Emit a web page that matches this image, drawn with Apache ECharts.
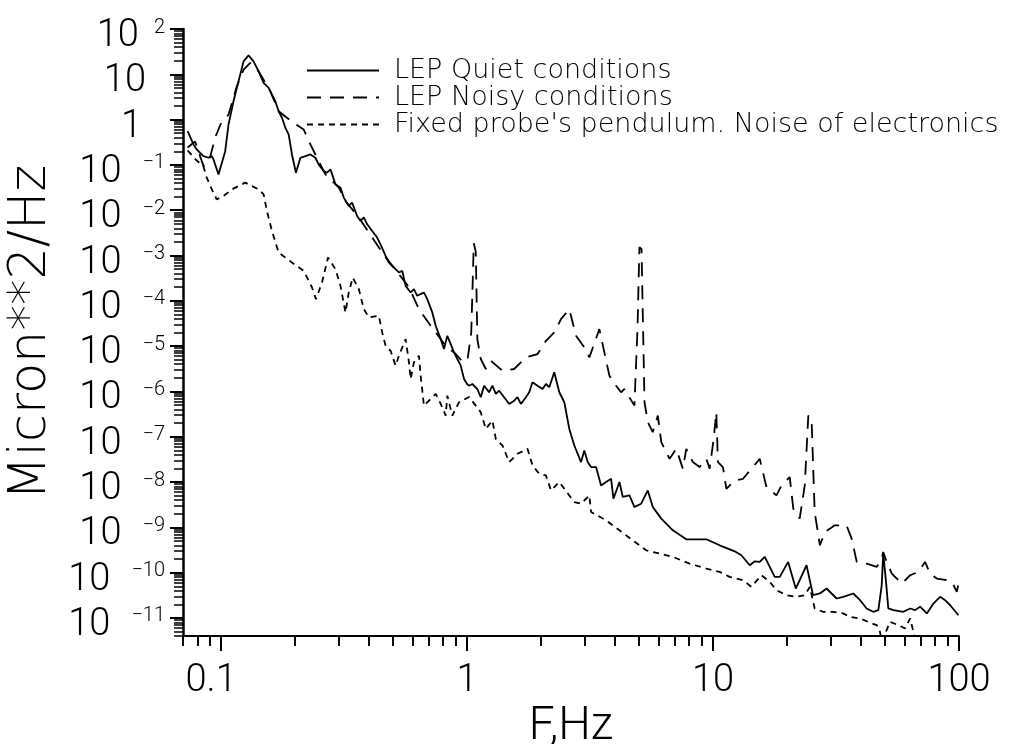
<!DOCTYPE html>
<html><head><meta charset="utf-8">
<script src="https://cdn.jsdelivr.net/npm/echarts@6/dist/echarts.min.js"></script>
<style>html,body{margin:0;padding:0;background:#fff}#c{width:1011px;height:744px}</style>
</head><body><div id="c"></div>
<script>
// ---- data: [frequency Hz, PSD micron^2/Hz] ----
const quiet = [[0.0731,0.555],[0.0772,0.283],[0.0796,0.219],[0.0848,0.156],[0.0889,0.144],[0.0917,0.156],[0.0931,0.132],[0.0976,0.0618],[0.1039,0.201],[0.1072,0.78],[0.1123,2.54],[0.1159,5.01],[0.1234,19.3],[0.1293,26.2],[0.1355,19.3],[0.1421,11.6],[0.1489,6.47],[0.1561,5.01],[0.161,3.57],[0.1661,2.54],[0.1714,1.53],[0.1768,1.1],[0.1825,0.659],[0.1882,0.47],[0.1941,0.17],[0.2015,0.0673],[0.2101,0.144],[0.2202,0.156],[0.2307,0.17],[0.2417,0.144],[0.2493,0.1026],[0.2614,0.073],[0.2696,0.0673],[0.2784,0.0796],[0.2917,0.0372],[0.3057,0.0315],[0.3152,0.019],[0.3304,0.0124],[0.3408,0.0147],[0.3573,0.00745],[0.3688,0.00578],[0.3804,0.00698],[0.3925,0.00489],[0.4113,0.00348],[0.431,0.00249],[0.4449,0.00177],[0.4664,0.00098],[0.481,0.000701],[0.4962,0.00059],[0.5284,0.000423],[0.545,0.000458],[0.5627,0.000214],[0.5896,0.000153],[0.6081,0.000181],[0.6272,0.000129],[0.6475,0.000141],[0.6679,0.000153],[0.6889,0.000109],[0.7221,5.55e-5],[0.7457,2.81e-5],[0.7814,1.43e-5],[0.8059,8.63e-6],[0.8312,1.69e-5],[0.8582,1.11e-5],[0.8852,7.3e-6],[0.913,5.2e-6],[0.9426,3.7e-6],[0.972,1.88e-6],[1.0,1.46e-6],[1.019,1.34e-6],[1.051,1.46e-6],[1.101,1.13e-6],[1.137,7.45e-7],[1.173,1.34e-6],[1.229,9.6e-7],[1.268,1.34e-6],[1.309,8.8e-7],[1.35,1.04e-6],[1.415,7.45e-7],[1.483,5.3e-7],[1.554,6.27e-7],[1.603,7.45e-7],[1.655,5.3e-7],[1.735,7.45e-7],[1.789,9.6e-7],[1.845,1.6e-6],[1.934,1.34e-6],[2.027,1.13e-6],[2.093,1.46e-6],[2.159,1.24e-6],[2.262,2.65e-6],[2.371,9.6e-7],[2.485,5.78e-7],[2.604,1.49e-7],[2.729,6.4e-8],[2.906,2.76e-8],[2.998,4.97e-8],[3.092,2.76e-8],[3.193,2.14e-8],[3.345,2.14e-8],[3.506,8.4e-9],[3.675,1.0e-8],[3.852,1.18e-8],[3.936,4.29e-9],[4.165,1.0e-8],[4.295,4.68e-9],[4.572,5.07e-9],[4.792,2.81e-9],[5.104,3.33e-9],[5.429,6.53e-9],[5.69,2.81e-9],[6.16,1.56e-9],[6.865,8.6e-10],[7.785,5.45e-10],[9.39,5.45e-10],[10.64,4.02e-10],[12.25,2.96e-10],[13.04,2.42e-10],[14.1,1.46e-10],[14.78,1.78e-10],[15.48,1.73e-10],[16.23,2.23e-10],[17.82,8.07e-11],[18.68,8.07e-11],[20.2,1.73e-10],[21.7,4.47e-11],[24.0,1.46e-10],[25.5,3.18e-11],[27.2,3.47e-11],[28.95,4.47e-11],[31.8,2.69e-11],[33.8,2.93e-11],[37.2,3.47e-11],[39.6,2.47e-11],[42.1,1.62e-11],[44.8,1.37e-11],[47.0,1.49e-11],[48.5,5.27e-11],[49.2,2.64e-10],[50.5,6.27e-11],[51.6,1.62e-11],[54.1,1.49e-11],[59.4,1.37e-11],[63.3,1.62e-11],[66.3,1.49e-11],[69.5,1.77e-11],[74.0,1.26e-11],[78.7,2.08e-11],[83.8,2.93e-11],[87.8,2.47e-11],[92.1,1.91e-11],[99.5,1.15e-11]];
const noisy = [[0.0731,0.243],[0.0784,0.33],[0.0848,0.094],[0.0897,0.132],[0.0946,0.404],[0.0994,0.78],[0.1072,1.29],[0.1159,5.44],[0.1234,12.7],[0.1314,17.8],[0.1421,11.6],[0.1585,4.23],[0.1714,1.53],[0.1847,1.11],[0.1972,0.851],[0.2167,0.605],[0.2307,0.283],[0.2417,0.17],[0.2655,0.0618],[0.301,0.0315],[0.3203,0.016],[0.3631,0.00687],[0.4113,0.00249],[0.4664,0.00092],[0.5284,0.000387],[0.5804,0.0002],[0.6374,6.56e-5],[0.7113,2.81e-5],[0.8189,1.02e-5],[0.899,6.7e-6],[0.954,4.7e-6],[1.003,4.76e-6],[1.04,2.0e-5],[1.065,0.00187],[1.085,0.0012],[1.101,1.43e-5],[1.137,5.2e-6],[1.192,3.13e-6],[1.249,4.76e-6],[1.393,2.87e-6],[1.554,3.13e-6],[1.735,5.66e-6],[1.934,6.7e-6],[2.093,1.31e-5],[2.262,2.01e-5],[2.409,3.95e-5],[2.604,6.56e-5],[2.773,1.69e-5],[2.998,9.4e-6],[3.142,5.66e-6],[3.45,2.38e-5],[3.616,7.3e-6],[3.79,2.23e-6],[4.036,1.34e-6],[4.23,9.6e-7],[4.36,1.13e-6],[4.79,4.86e-7],[4.93,2.38e-5],[5.02,0.00152],[5.12,0.00138],[5.265,5.78e-7],[5.43,2.1e-7],[5.69,1.26e-7],[5.965,2.93e-7],[6.16,7.6e-8],[6.66,3.26e-8],[7.09,5.41e-8],[7.54,1.96e-8],[7.785,5.41e-8],[8.28,2.76e-8],[8.82,2.14e-8],[9.39,3.26e-8],[9.685,1.96e-8],[10.06,9.0e-8],[10.31,3.48e-7],[10.47,2.76e-8],[10.97,2.14e-8],[11.33,7.1e-9],[12.25,1.08e-8],[13.24,1.18e-8],[15.48,3.26e-8],[16.49,7.76e-9],[18.11,5.07e-9],[18.98,8.4e-9],[20.5,1.29e-8],[21.2,2.58e-9],[22.5,1.56e-9],[23.6,8.4e-9],[24.4,2.93e-7],[25.15,2.48e-7],[25.9,2.18e-9],[27.2,4.02e-10],[28.5,7.9e-10],[31.3,1.11e-9],[34.9,1.11e-9],[36.6,5.64e-10],[38.4,1.73e-10],[42.1,1.58e-10],[46.3,1.34e-10],[48.5,2.05e-10],[49.2,2.87e-10],[50.8,1.73e-10],[53.3,9.5e-11],[58.5,5.75e-11],[63.3,8.77e-11],[68.4,1.04e-10],[72.8,1.73e-10],[76.3,9.5e-11],[81.3,7.4e-11],[89.3,6.8e-11],[93.5,6.27e-11],[98.0,3.78e-11],[100,6.5e-11]];
const fixedProbe = [[0.0731,0.209],[0.0787,0.132],[0.0848,0.0927],[0.0874,0.0523],[0.0917,0.0288],[0.096,0.0174],[0.1023,0.0206],[0.1106,0.0288],[0.1253,0.0406],[0.1421,0.0288],[0.1489,0.0224],[0.1536,0.0096],[0.161,0.00348],[0.1714,0.00116],[0.1941,0.0007],[0.2167,0.000458],[0.2342,0.000197],[0.2431,0.000109],[0.2572,0.000254],[0.2721,0.000904],[0.2917,0.000499],[0.3057,0.000214],[0.3203,5.55e-5],[0.3304,0.000153],[0.343,0.000327],[0.3631,0.000181],[0.3804,6.56e-5],[0.3988,4.31e-5],[0.4379,4.68e-5],[0.4518,2.01e-5],[0.4664,1.02e-5],[0.4888,7.9e-6],[0.5123,3.7e-6],[0.5284,6.15e-6],[0.5627,1.43e-5],[0.5804,4.4e-6],[0.5896,1.88e-6],[0.6081,4.4e-6],[0.6374,6.15e-6],[0.6475,2.23e-6],[0.6679,4.86e-7],[0.7457,8.8e-7],[0.7814,5.3e-7],[0.8189,2.93e-7],[0.8312,8.07e-7],[0.871,2.93e-7],[0.9277,5.78e-7],[1.019,7.57e-7],[1.137,3.48e-7],[1.192,1.49e-7],[1.268,2.28e-7],[1.309,9.0e-8],[1.393,6.4e-8],[1.483,2.76e-8],[1.603,4.2e-8],[1.761,5.41e-8],[1.845,2.32e-8],[1.965,1.52e-8],[2.093,1.4e-8],[2.193,6.53e-9],[2.371,1.0e-8],[2.604,5.07e-9],[2.729,3.62e-9],[2.906,3.33e-9],[3.142,5.07e-9],[3.193,2.18e-9],[3.675,1.43e-9],[4.165,8.6e-10],[4.716,5.18e-10],[5.35,3.11e-10],[6.06,2.64e-10],[6.865,2.23e-10],[8.03,1.58e-10],[9.39,1.23e-10],[10.64,1.04e-10],[11.68,8.07e-11],[13.24,6.8e-11],[14.32,4.86e-11],[15.74,8.77e-11],[17.0,6.27e-11],[18.11,4.1e-11],[19.9,3.18e-11],[21.85,2.93e-11],[23.6,3.18e-11],[24.75,4.86e-11],[25.9,1.62e-11],[28.0,1.37e-11],[30.8,1.37e-11],[33.8,1.26e-11],[36.0,1.06e-11],[39.6,9.75e-12],[44.2,7.57e-12],[46.3,6.94e-12],[47.7,4.97e-12],[48.6,3.0e-12],[52.4,8.24e-12],[56.7,6.94e-12],[60.4,5.87e-12],[63.3,9.75e-12],[66.3,3.5e-12],[75,3.0e-12],[100,3.0e-12]];
const seriesNames = ['LEP Quiet conditions', 'LEP Noisy conditions', "Fixed probe's pendulum. Noise of electronics"];
const xMajor = [0.1, 1, 10, 100];
const xMinor = [0.07,0.08,0.09,0.2,0.3,0.4,0.5,0.6,0.7,0.8,0.9,2,3,4,5,6,7,8,9,20,30,40,50,60,70,80,90];
const yMajor = [1e2,1e1,1,1e-1,1e-2,1e-3,1e-4,1e-5,1e-6,1e-7,1e-8,1e-9,1e-10,1e-11];
// label values listed so that neighbouring labels are not adjacent at the list ends
const yLabelValues = [1e2,1e-11,1,1e-1,1e-2,1e-3,1e-4,1e-5,1e-6,1e-7,1e-8,1e-9,1e1,1e-10];
const yMinor = [];
for (let k = -12; k < 2; k++) for (let m = 2; m <= 9; m++) { const v = m * Math.pow(10, k); if (v >= 4e-12 && v < 100) yMinor.push(v); }
const xName = 'F,Hz';
const yName = 'Micron**2/Hz';

const FONT = "Roboto, 'Liberation Sans', sans-serif";
const WIDE = "'DejaVu Sans', Roboto, sans-serif";
const chart = echarts.init(document.getElementById('c'), null, {renderer: 'canvas'});
const lineW = 1.8;
const common = {type: 'log', logBase: 10, splitLine: {show: false}, minorTick: {show: false}, minorSplitLine: {show: false}};
chart.setOption({
  animation: false,
  backgroundColor: '#fff',
  grid: {left: 183, right: 52, top: 29, bottom: 108, containLabel: false, outerBoundsMode: 'none'},
  legend: {
    orient: 'vertical', left: 301, top: 52, itemWidth: 72, itemHeight: 14, itemGap: 0,
    selectedMode: false, data: seriesNames,
    itemStyle: {opacity: 0},
    textStyle: {fontFamily: WIDE, fontWeight: 200, fontSize: 27, color: '#000', padding: [0, 0, 0, 10]}
  },
  xAxis: [
    Object.assign({}, common, {
      min: 0.07, max: 100, position: 'bottom',
      name: xName, nameLocation: 'middle', nameGap: 42,
      nameTextStyle: {fontFamily: FONT, fontWeight: 300, fontSize: 46, color: '#000'},
      axisLine: {lineStyle: {color: '#000', width: 2}},
      axisTick: {customValues: xMajor, length: 15, lineStyle: {color: '#000', width: 2}},
      axisLabel: {customValues: xMajor, margin: 26, color: '#000', fontFamily: FONT, fontWeight: 300, fontSize: 38,
        showMinLabel: true, showMaxLabel: true,
        formatter: v => (v < 0.5 ? '{p|' + v + '}' : String(v)),
        rich: {p: {fontFamily: FONT, fontWeight: 300, fontSize: 38, color: '#000', padding: [0, 20, 0, 0]}}}
    }),
    Object.assign({}, common, {
      min: 0.07, max: 100, position: 'bottom',
      axisLine: {show: false}, axisLabel: {show: false},
      axisTick: {customValues: xMinor, length: 10, lineStyle: {color: '#000', width: 2}}
    })
  ],
  yAxis: [
    Object.assign({}, common, {
      min: 4e-12, max: 100, position: 'left',
      name: yName, nameLocation: 'middle', nameGap: 122, nameRotate: 90,
      nameTextStyle: {fontFamily: WIDE, fontWeight: 200, fontSize: 51, color: '#000'},
      axisLine: {lineStyle: {color: '#000', width: 2.5}},
      axisTick: {customValues: yMajor, length: 13, lineStyle: {color: '#000', width: 2}},
      axisLabel: {customValues: yLabelValues, margin: 18, color: '#000', padding: [15, 0, 0, 0],
        showMinLabel: true, showMaxLabel: true, hideOverlap: false,
        formatter: v => {
          const e = Math.round(Math.log10(v));
          if (e === 1) return '{b|10}{s1|}';
          if (e === 0) return '{b|1}{s0|}';
          if (e > 0) return '{b|10}{p|' + e + '}';
          return '{b|10}{e|\u2212' + Math.abs(e) + '}';
        },
        rich: {
          b: {fontFamily: FONT, fontWeight: 300, fontSize: 38, lineHeight: 38, color: '#000', padding: [15, 0, 0, 0], verticalAlign: 'bottom'},
          e: {fontFamily: FONT, fontWeight: 300, fontSize: 20, lineHeight: 24, color: '#000', padding: [0, 0, 0, 21], verticalAlign: 'top'},
          p: {fontFamily: FONT, fontWeight: 300, fontSize: 20, lineHeight: 24, color: '#000', padding: [0, 0, 0, 15], verticalAlign: 'top'},
          s1: {width: 19}, s0: {width: 23}
        }}
    }),
    Object.assign({}, common, {
      min: 4e-12, max: 100, position: 'left',
      axisLine: {show: false}, axisLabel: {show: false},
      axisTick: {customValues: yMinor, length: 9, lineStyle: {color: '#000', width: 1.5}}
    })
  ],
  series: [
    {name: seriesNames[0], type: 'line', data: quiet, symbol: 'none', showSymbol: false, clip: true,
     lineStyle: {color: '#000', width: lineW, type: 'solid'}, itemStyle: {color: '#000'}},
    {name: seriesNames[1], type: 'line', data: noisy, symbol: 'none', showSymbol: false, clip: true,
     lineStyle: {color: '#000', width: lineW, type: [14, 9]}, itemStyle: {color: '#000'}},
    {name: seriesNames[2], type: 'line', data: fixedProbe, symbol: 'none', showSymbol: false, clip: true,
     lineStyle: {color: '#000', width: lineW, type: [6, 5]}, itemStyle: {color: '#000'}}
  ]
});
</script></body></html>
